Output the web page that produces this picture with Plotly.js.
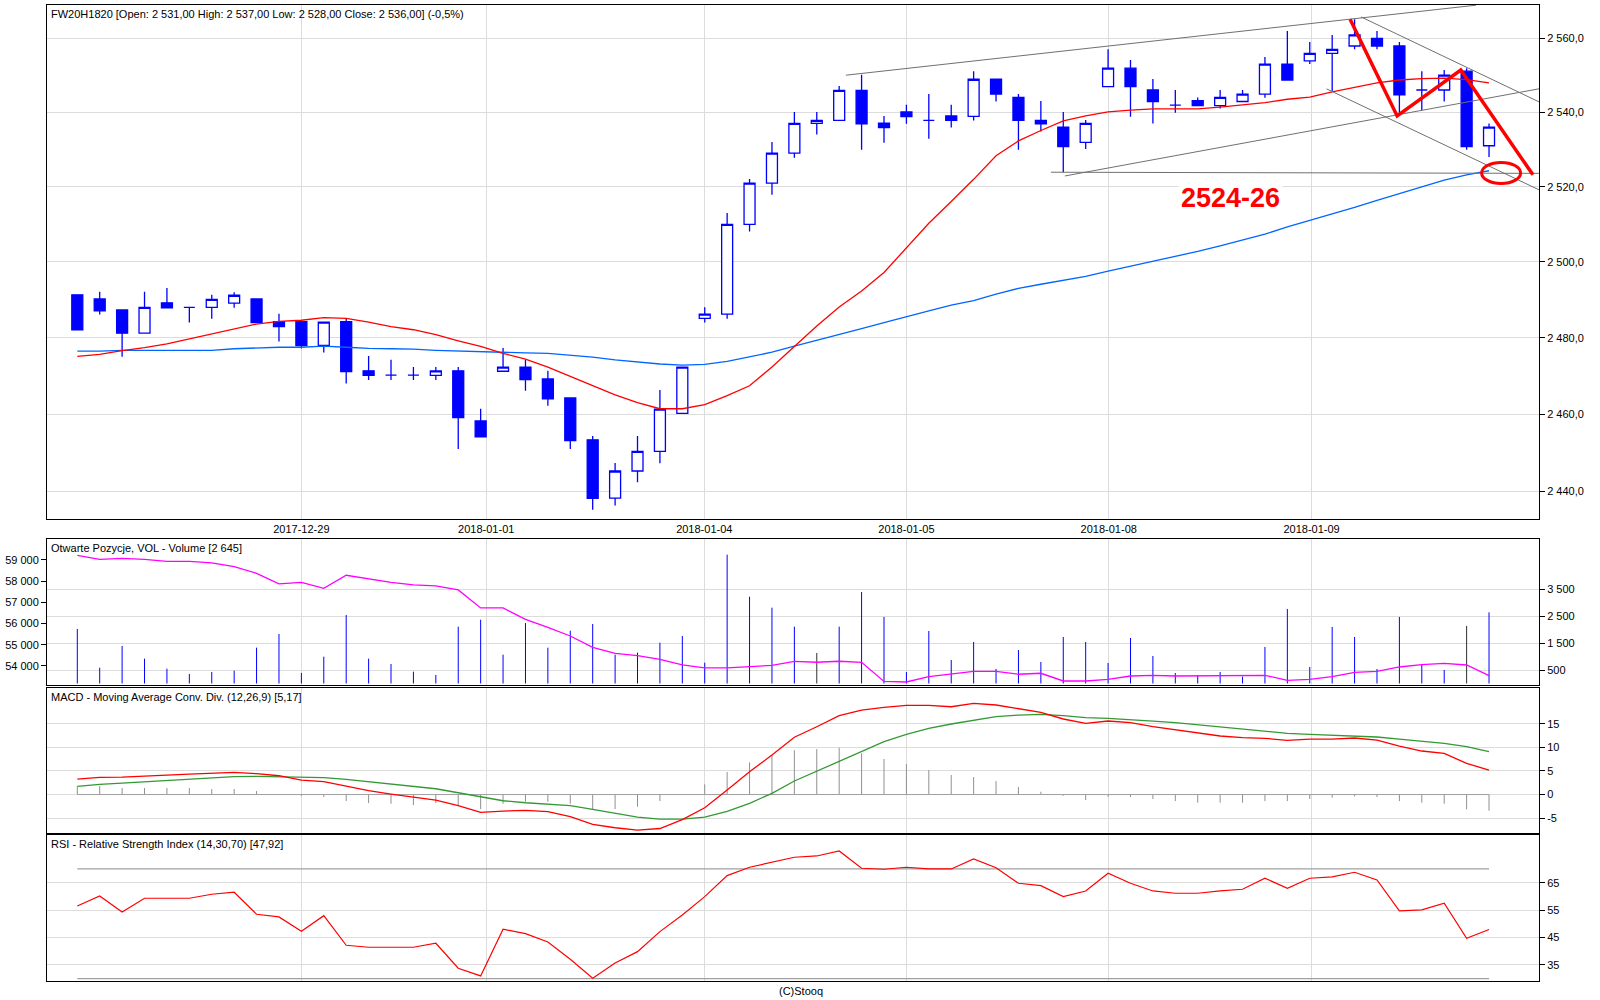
<!DOCTYPE html>
<html>
<head>
<meta charset="utf-8">
<title>FW20H1820</title>
<script src="https://cdn.plot.ly/plotly-3.0.1.min.js"></script>
<style>
  html, body { margin: 0; padding: 0; background: #ffffff; }
  #chart { width: 1600px; height: 1000px; }
</style>
</head>
<body>
<div id="chart"></div>
<script>
// ================= DATA =================
const open = [2491.3, 2490.2, 2487.3, 2481.2, 2489.2, 2488.0, 2488.0, 2489.1,
  2490.2, 2484.2, 2484.2, 2478.0, 2484.2, 2471.3, 2470.2, 2470.2,
  2470.1, 2471.3, 2458.2, 2471.2, 2472.3, 2469.2, 2464.2, 2453.3,
  2438.2, 2445.2, 2450.3, 2460.2, 2485.1, 2486.2, 2510.0, 2521.0,
  2529.0, 2537.0, 2537.8, 2545.9, 2537.1, 2540.1, 2537.8, 2539.0,
  2538.9, 2548.9, 2544.0, 2537.8, 2536.0, 2531.9, 2546.9, 2551.9,
  2546.0, 2541.9, 2543.1, 2541.8, 2542.9, 2544.9, 2553.0, 2553.9,
  2555.9, 2557.9, 2560.0, 2557.9, 2546.0, 2546.0, 2551.1, 2531.0];
const high = [2491.3, 2492.1, 2487.3, 2492.1, 2493.1, 2488.0, 2491.3, 2492.0,
  2490.2, 2486.3, 2484.2, 2484.1, 2485.1, 2475.2, 2474.2, 2472.3,
  2472.3, 2472.3, 2461.4, 2477.3, 2474.2, 2471.3, 2464.2, 2454.3,
  2447.3, 2454.3, 2466.3, 2472.3, 2488.0, 2513.0, 2522.1, 2532.0,
  2540.1, 2540.1, 2547.1, 2550.1, 2539.0, 2542.0, 2544.9, 2542.0,
  2551.1, 2548.9, 2544.9, 2543.0, 2540.1, 2537.9, 2557.0, 2554.1,
  2549.0, 2546.0, 2544.0, 2546.0, 2546.0, 2554.9, 2562.0, 2559.0,
  2560.9, 2565.2, 2562.0, 2559.0, 2551.1, 2551.4, 2551.9, 2537.0];
const low = [2482.1, 2486.1, 2475.0, 2481.2, 2487.9, 2484.0, 2485.0, 2487.9,
  2484.0, 2479.0, 2477.2, 2476.1, 2468.0, 2468.9, 2468.9, 2468.9,
  2468.9, 2450.9, 2454.1, 2471.2, 2466.1, 2462.2, 2450.9, 2435.2,
  2436.3, 2442.3, 2447.2, 2460.2, 2484.0, 2485.0, 2508.1, 2517.9,
  2527.8, 2534.0, 2537.8, 2529.9, 2531.8, 2536.9, 2532.9, 2535.9,
  2537.8, 2542.9, 2529.9, 2534.8, 2523.9, 2530.1, 2546.9, 2538.8,
  2537.0, 2539.9, 2541.8, 2541.0, 2542.9, 2543.9, 2548.7, 2553.0,
  2545.7, 2557.0, 2557.0, 2539.9, 2540.6, 2542.9, 2529.9, 2528.0];
const close = [2482.1, 2487.1, 2481.2, 2488.0, 2487.9, 2488.0, 2490.1, 2491.2,
  2484.0, 2482.9, 2477.9, 2484.1, 2471.1, 2470.1, 2470.2, 2470.2,
  2471.3, 2459.1, 2454.1, 2472.3, 2469.0, 2464.0, 2453.1, 2438.1,
  2445.2, 2450.3, 2461.3, 2472.3, 2486.2, 2510.0, 2521.0, 2529.0,
  2537.0, 2537.8, 2545.9, 2536.9, 2535.9, 2538.8, 2537.8, 2537.8,
  2548.9, 2544.9, 2537.8, 2536.9, 2530.8, 2537.0, 2551.9, 2546.9,
  2542.9, 2541.9, 2541.8, 2544.0, 2544.9, 2553.0, 2548.7, 2555.9,
  2557.0, 2560.9, 2557.9, 2544.7, 2546.0, 2550.0, 2530.8, 2536.0];

const maFast = [2475.1, 2475.6, 2476.6, 2477.4, 2478.4, 2479.7, 2480.9, 2482.3,
  2483.6, 2484.3, 2484.6, 2485.3, 2485.1, 2484.1, 2482.9, 2482.1,
  2480.8, 2479.2, 2477.7, 2475.9, 2474.4, 2472.3, 2469.8, 2467.4,
  2465.0, 2463.0, 2461.4, 2461.4, 2462.5, 2464.8, 2467.4, 2472.3,
  2477.7, 2483.1, 2488.1, 2492.3, 2497.2, 2503.8, 2510.3, 2516.1,
  2522.0, 2528.3, 2532.3, 2535.1, 2537.7, 2539.0, 2540.1, 2540.6,
  2540.9, 2540.9, 2540.9, 2541.4, 2542.0, 2542.6, 2543.5, 2544.1,
  2545.5, 2546.8, 2547.9, 2548.7, 2549.1, 2549.2, 2548.8, 2547.9];
const maSlow = [2476.5, 2476.5, 2476.7, 2476.7, 2476.7, 2476.8, 2476.7, 2477.1,
  2477.3, 2477.5, 2477.5, 2477.8, 2477.5, 2477.2, 2477.1, 2477.0,
  2476.7, 2476.5, 2476.4, 2476.1, 2476.0, 2475.9, 2475.4, 2474.9,
  2474.2, 2473.6, 2473.1, 2472.8, 2473.0, 2473.8, 2474.9, 2476.2,
  2477.8, 2479.4, 2481.0, 2482.4, 2484.0, 2485.6, 2487.1, 2488.6,
  2489.8, 2491.5, 2493.0, 2494.1, 2495.1, 2496.2, 2497.6, 2498.9,
  2500.1, 2501.5, 2502.8, 2504.3, 2505.9, 2507.4, 2509.3, 2511.0,
  2512.8, 2514.5, 2516.4, 2518.1, 2520.0, 2521.8, 2523.2, 2524.3];

const volume = [2026, 587, 1394, 922, 550, 353, 427, 476,
  1331, 1840, 390, 996, 2546, 922, 725, 439,
  316, 2111, 2371, 1071, 2249, 1331, 1963, 2212,
  1071, 1145, 1517, 1766, 773, 4788, 3226, 2818,
  2111, 1134, 2111, 3401, 2472, 427, 1951, 873,
  1543, 539, 1245, 799, 1728, 1543, 762, 1691,
  1022, 390, 316, 427, 253, 1357, 2769, 613,
  2100, 1728, 539, 2472, 688, 502, 2137, 2645];
const darkVolumeBars = [33, 62];
const openInterest = [59220, 59031, 59079, 59031, 58937, 58937, 58858, 58686,
  58371, 57868, 57947, 57664, 58277, 58104, 57947, 57821,
  57774, 57585, 56736, 56736, 56201, 55824, 55415, 54881,
  54598, 54487, 54315, 54047, 53906, 53906, 53953, 54031,
  54220, 54175, 54222, 54175, 53269, 53245, 53495, 53623,
  53750, 53750, 53609, 53656, 53292, 53292, 53373, 53528,
  53561, 53528, 53528, 53528, 53528, 53561, 53325, 53373,
  53495, 53703, 53750, 53953, 54061, 54127, 54047, 53542];

const macd = [3.29, 3.65, 3.71, 3.99, 4.14, 4.35, 4.50, 4.71,
  4.42, 3.99, 3.08, 2.72, 1.81, 0.81, 0.11, -0.46,
  -1.16, -2.37, -3.77, -3.50, -3.35, -3.64, -4.70, -6.32,
  -7.04, -7.53, -7.20, -5.30, -2.80, 0.96, 4.84, 8.38,
  12.15, 14.38, 16.72, 17.92, 18.50, 18.92, 18.92, 18.62,
  19.35, 18.99, 18.14, 17.44, 16.02, 15.10, 15.59, 15.23,
  14.38, 13.68, 12.98, 12.41, 12.05, 11.92, 11.50, 11.77,
  11.77, 11.99, 11.56, 10.29, 9.23, 8.74, 6.62, 5.17];
const macdSignal = [1.74, 2.17, 2.44, 2.72, 3.01, 3.14, 3.44, 3.78,
  3.86, 3.78, 3.65, 3.57, 3.23, 2.72, 2.29, 1.81,
  1.23, 0.38, -0.53, -1.31, -1.74, -2.01, -2.37, -3.14,
  -3.98, -4.77, -5.19, -5.19, -4.77, -3.56, -1.86, 0.26,
  2.87, 4.99, 7.11, 9.23, 11.20, 12.77, 14.04, 14.96,
  15.80, 16.50, 16.86, 17.01, 16.72, 16.29, 16.16, 15.95,
  15.59, 15.23, 14.81, 14.38, 13.96, 13.47, 12.98, 12.77,
  12.56, 12.35, 12.20, 11.77, 11.35, 10.86, 10.14, 9.08];
const macdHist = [1.74, 1.80, 1.38, 1.38, 1.38, 1.38, 1.17, 1.17,
  0.74, 0.05, -0.32, -0.53, -1.38, -1.80, -1.95, -2.23,
  -1.80, -2.23, -3.08, -1.95, -1.53, -1.53, -1.95, -3.08,
  -3.08, -2.59, -1.38, -0.05, 2.16, 4.77, 6.82, 8.38,
  9.40, 9.65, 9.93, 8.74, 7.53, 6.47, 5.20, 4.14,
  3.71, 2.86, 1.59, 0.60, -0.25, -1.17, -0.46, -0.53,
  -0.95, -1.38, -1.73, -1.73, -1.73, -1.38, -1.38, -0.95,
  -0.67, -0.39, -0.53, -1.38, -1.73, -1.95, -3.14, -3.43];

const rsi = [56.50, 60.15, 54.31, 59.30, 59.30, 59.30, 60.77, 61.50,
  53.47, 52.48, 47.26, 52.96, 42.15, 41.42, 41.42, 41.42,
  42.88, 33.76, 30.95, 47.99, 46.39, 43.36, 37.04, 30.11,
  35.69, 39.82, 47.12, 53.21, 59.90, 67.56, 70.62, 72.45,
  74.27, 74.74, 76.57, 70.26, 69.89, 70.62, 70.00, 70.00,
  73.65, 70.47, 64.78, 63.91, 59.89, 61.97, 68.43, 64.78,
  61.97, 61.13, 61.13, 61.97, 62.59, 66.61, 62.96, 66.61,
  67.08, 68.80, 65.99, 54.67, 55.04, 57.48, 44.71, 47.92];
const rsiLevels = [70, 30];

// axis ticks / labels
const dateTickPos = [10.0, 18.25, 27.98, 37.0, 46.03, 55.08];
const dateTickText = ['2017-12-29', '2018-01-01', '2018-01-04', '2018-01-05', '2018-01-08', '2018-01-09'];
const priceTicks = [2440, 2460, 2480, 2500, 2520, 2540, 2560];
const priceTickText = ['2 440,0', '2 460,0', '2 480,0', '2 500,0', '2 520,0', '2 540,0', '2 560,0'];
const volumeTicks = [500, 1500, 2500, 3500];
const volumeTickText = ['500', '1 500', '2 500', '3 500'];
const oiTicks = [54000, 55000, 56000, 57000, 58000, 59000];
const oiTickText = ['54 000', '55 000', '56 000', '57 000', '58 000', '59 000'];
const macdTicks = [-5, 0, 5, 10, 15];
const rsiTicks = [35, 45, 55, 65];

// hand-drawn analysis: [x0, price0, x1, price1] in (candle index, price)
const trendLines = [
  [34.30, 2550.0, 62.42, 2569.0],
  [44.07, 2522.9, 65.30, 2546.4],
  [43.45, 2523.9, 65.30, 2523.6],
  [55.75, 2546.3, 65.30, 2519.0],
  [57.29, 2565.8, 65.30, 2542.6]
];
const zigzagX = [56.80, 58.90, 61.74, 64.96];
const zigzagY = [2565.2, 2539.0, 2551.4, 2523.2];
const targetText = '2524-26';
const targetTextPos = [51.46, 2517.0];
const targetEllipsePos = [63.54, 2523.7];

// ================= CHART =================
const FONT = '"Liberation Sans", Arial, sans-serif';
const GRID = '#dcdcdc';
const xs = close.map((_, i) => i);
const firstX = xs[0], lastX = xs[xs.length - 1];
const xRange = [-1.352, 65.23];
const priceRange = [2432.8, 2569.05];
const logMin = Math.log10(priceRange[0]), logMax = Math.log10(priceRange[1]);
// fraction of the main panel height for a price (for the pixel-sized ellipse)
const priceFrac = p => (Math.log10(p) - logMin) / (logMax - logMin);

function stems(values, keep) {
  const x = [], y = [];
  values.forEach((v, i) => { if (keep(i)) { x.push(i, i, null); y.push(0, v, null); } });
  return {x, y};
}
function segments(lines) {
  const x = [], y = [];
  lines.forEach(l => { x.push(l[0], l[2], null); y.push(l[1], l[3], null); });
  return {x, y};
}

const volNormal = stems(volume, i => !darkVolumeBars.includes(i));
const volDark = stems(volume, i => darkVolumeBars.includes(i));
const histStems = stems(macdHist, () => true);
const trend = segments(trendLines);

const traces = [
  {
    type: 'candlestick', x: xs, open: open, high: high, low: low, close: close,
    xaxis: 'x', yaxis: 'y', whiskerwidth: 0, hoverinfo: 'skip',
    increasing: {line: {color: '#0000ff', width: 1.3}, fillcolor: '#ffffff'},
    decreasing: {line: {color: '#0000ff', width: 1.3}, fillcolor: '#0000ff'}
  },
  {type: 'scatter', mode: 'lines', x: xs, y: maSlow, xaxis: 'x', yaxis: 'y',
   line: {color: '#0066ff', width: 1.3}, hoverinfo: 'skip'},
  {type: 'scatter', mode: 'lines', x: xs, y: maFast, xaxis: 'x', yaxis: 'y',
   line: {color: '#ff0000', width: 1.3}, hoverinfo: 'skip'},
  {type: 'scatter', mode: 'lines', x: trend.x, y: trend.y, xaxis: 'x', yaxis: 'y',
   line: {color: '#707070', width: 1}, connectgaps: false, hoverinfo: 'skip'},
  {type: 'scatter', mode: 'lines', x: zigzagX, y: zigzagY, xaxis: 'x', yaxis: 'y',
   line: {color: '#ff0000', width: 3.5}, hoverinfo: 'skip'},

  // volume panel
  {type: 'scatter', mode: 'lines', x: volNormal.x, y: volNormal.y, xaxis: 'x2', yaxis: 'y2',
   line: {color: '#0000ff', width: 1}, hoverinfo: 'skip'},
  {type: 'scatter', mode: 'lines', x: volDark.x, y: volDark.y, xaxis: 'x2', yaxis: 'y2',
   line: {color: '#303030', width: 1}, hoverinfo: 'skip'},
  {type: 'scatter', mode: 'lines', x: xs, y: openInterest, xaxis: 'x2', yaxis: 'y3',
   line: {color: '#ff00ff', width: 1.3}, hoverinfo: 'skip'},

  // MACD panel
  {type: 'scatter', mode: 'lines', x: histStems.x, y: histStems.y, xaxis: 'x3', yaxis: 'y4',
   line: {color: '#909090', width: 1}, hoverinfo: 'skip'},
  {type: 'scatter', mode: 'lines', x: [firstX, lastX], y: [0, 0], xaxis: 'x3', yaxis: 'y4',
   line: {color: '#a0a0a0', width: 1}, hoverinfo: 'skip'},
  {type: 'scatter', mode: 'lines', x: xs, y: macdSignal, xaxis: 'x3', yaxis: 'y4',
   line: {color: '#339933', width: 1.3}, hoverinfo: 'skip'},
  {type: 'scatter', mode: 'lines', x: xs, y: macd, xaxis: 'x3', yaxis: 'y4',
   line: {color: '#ff0000', width: 1.3}, hoverinfo: 'skip'},

  // RSI panel
  {type: 'scatter', mode: 'lines',
   x: [firstX, lastX, null, firstX, lastX],
   y: [rsiLevels[0], rsiLevels[0], null, rsiLevels[1], rsiLevels[1]],
   xaxis: 'x4', yaxis: 'y5', line: {color: '#a0a0a0', width: 1.3}, hoverinfo: 'skip'},
  {type: 'scatter', mode: 'lines', x: xs, y: rsi, xaxis: 'x4', yaxis: 'y5',
   line: {color: '#ff0000', width: 1.2}, hoverinfo: 'skip'}
];

const tickFont = {family: FONT, size: 11, color: '#000000'};
const baseX = {
  range: xRange, tickmode: 'array', tickvals: dateTickPos, ticktext: dateTickText,
  showgrid: true, gridcolor: GRID, gridwidth: 1, zeroline: false,
  showline: true, linecolor: '#000000', linewidth: 1, mirror: true,
  ticks: '', showticklabels: false, tickfont: tickFont, fixedrange: true
};
const baseY = {
  showgrid: true, gridcolor: GRID, gridwidth: 1, zeroline: false,
  showline: true, linecolor: '#000000', linewidth: 1, mirror: true,
  ticks: 'outside', ticklen: 5, tickwidth: 1, tickcolor: '#000000',
  tickfont: tickFont, tickmode: 'array', fixedrange: true
};

const headerFont = {family: FONT, size: 11, color: '#000000'};
function header(text, xref, yref) {
  return {text: text, xref: xref, yref: yref, x: 0, y: 1, xanchor: 'left', yanchor: 'top',
          xshift: 2, yshift: -1, showarrow: false, font: headerFont};
}

const layout = {
  width: 1600, height: 1000, autosize: false,
  margin: {l: 47, r: 61, t: 5, b: 19, pad: 0},
  paper_bgcolor: '#ffffff', plot_bgcolor: '#ffffff',
  showlegend: false, hovermode: false,
  xaxis: Object.assign({}, baseX, {anchor: 'y', showticklabels: true, rangeslider: {visible: false}}),
  xaxis2: Object.assign({}, baseX, {anchor: 'y2'}),
  xaxis3: Object.assign({}, baseX, {anchor: 'y4'}),
  xaxis4: Object.assign({}, baseX, {anchor: 'y5'}),
  yaxis: Object.assign({}, baseY, {
    domain: [0.4734, 1], anchor: 'x', side: 'right', type: 'log',
    range: [logMin, logMax],
    tickvals: priceTicks, ticktext: priceTickText
  }),
  yaxis2: Object.assign({}, baseY, {
    domain: [0.3033, 0.4529], anchor: 'x2', side: 'right', range: [-56, 5371],
    tickvals: volumeTicks, ticktext: volumeTickText
  }),
  yaxis3: Object.assign({}, baseY, {
    overlaying: 'y2', anchor: 'x2', side: 'left', range: [53104, 59990],
    tickvals: oiTicks, ticktext: oiTickText, showgrid: false, showline: false
  }),
  yaxis4: Object.assign({}, baseY, {
    domain: [0.1516, 0.3002], anchor: 'x3', side: 'right', range: [-8.16, 22.59],
    tickvals: macdTicks, ticktext: macdTicks.map(String)
  }),
  yaxis5: Object.assign({}, baseY, {
    domain: [0, 0.1496], anchor: 'x4', side: 'right', range: [29.1, 82.4],
    tickvals: rsiTicks, ticktext: rsiTicks.map(String)
  }),
  annotations: [
    header('FW20H1820 [Open: 2 531,00 High: 2 537,00 Low: 2 528,00 Close: 2 536,00] (-0,5%)', 'x domain', 'y domain'),
    header('Otwarte Pozycje, VOL - Volume [2 645]', 'x2 domain', 'y2 domain'),
    header('MACD - Moving Average Conv. Div. (12,26,9) [5,17]', 'x3 domain', 'y4 domain'),
    header('RSI - Relative Strength Index (14,30,70) [47,92]', 'x4 domain', 'y5 domain'),
    {text: '(C)Stooq', xref: 'paper', yref: 'paper', x: 0.5054, y: -0.0102,
     xanchor: 'center', yanchor: 'middle', showarrow: false, font: headerFont},
    {text: '<b>' + targetText + '</b>', xref: 'x', yref: 'y',
     x: targetTextPos[0], y: Math.log10(targetTextPos[1]),
     xanchor: 'center', yanchor: 'middle', showarrow: false,
     font: {family: FONT, size: 27, color: '#ff0000'},
     bgcolor: '#ffffff', borderpad: 2}
  ],
  shapes: [
    {type: 'circle', xref: 'x', yref: 'y domain', xsizemode: 'pixel', ysizemode: 'pixel',
     xanchor: targetEllipsePos[0], yanchor: priceFrac(targetEllipsePos[1]),
     x0: -19.5, x1: 19.5, y0: -10.5, y1: 10.5,
     line: {color: '#ff0000', width: 3}, fillcolor: 'rgba(0,0,0,0)'}
  ]
};

Plotly.newPlot('chart', traces, layout, {staticPlot: true, displayModeBar: false});
</script>
</body>
</html>
